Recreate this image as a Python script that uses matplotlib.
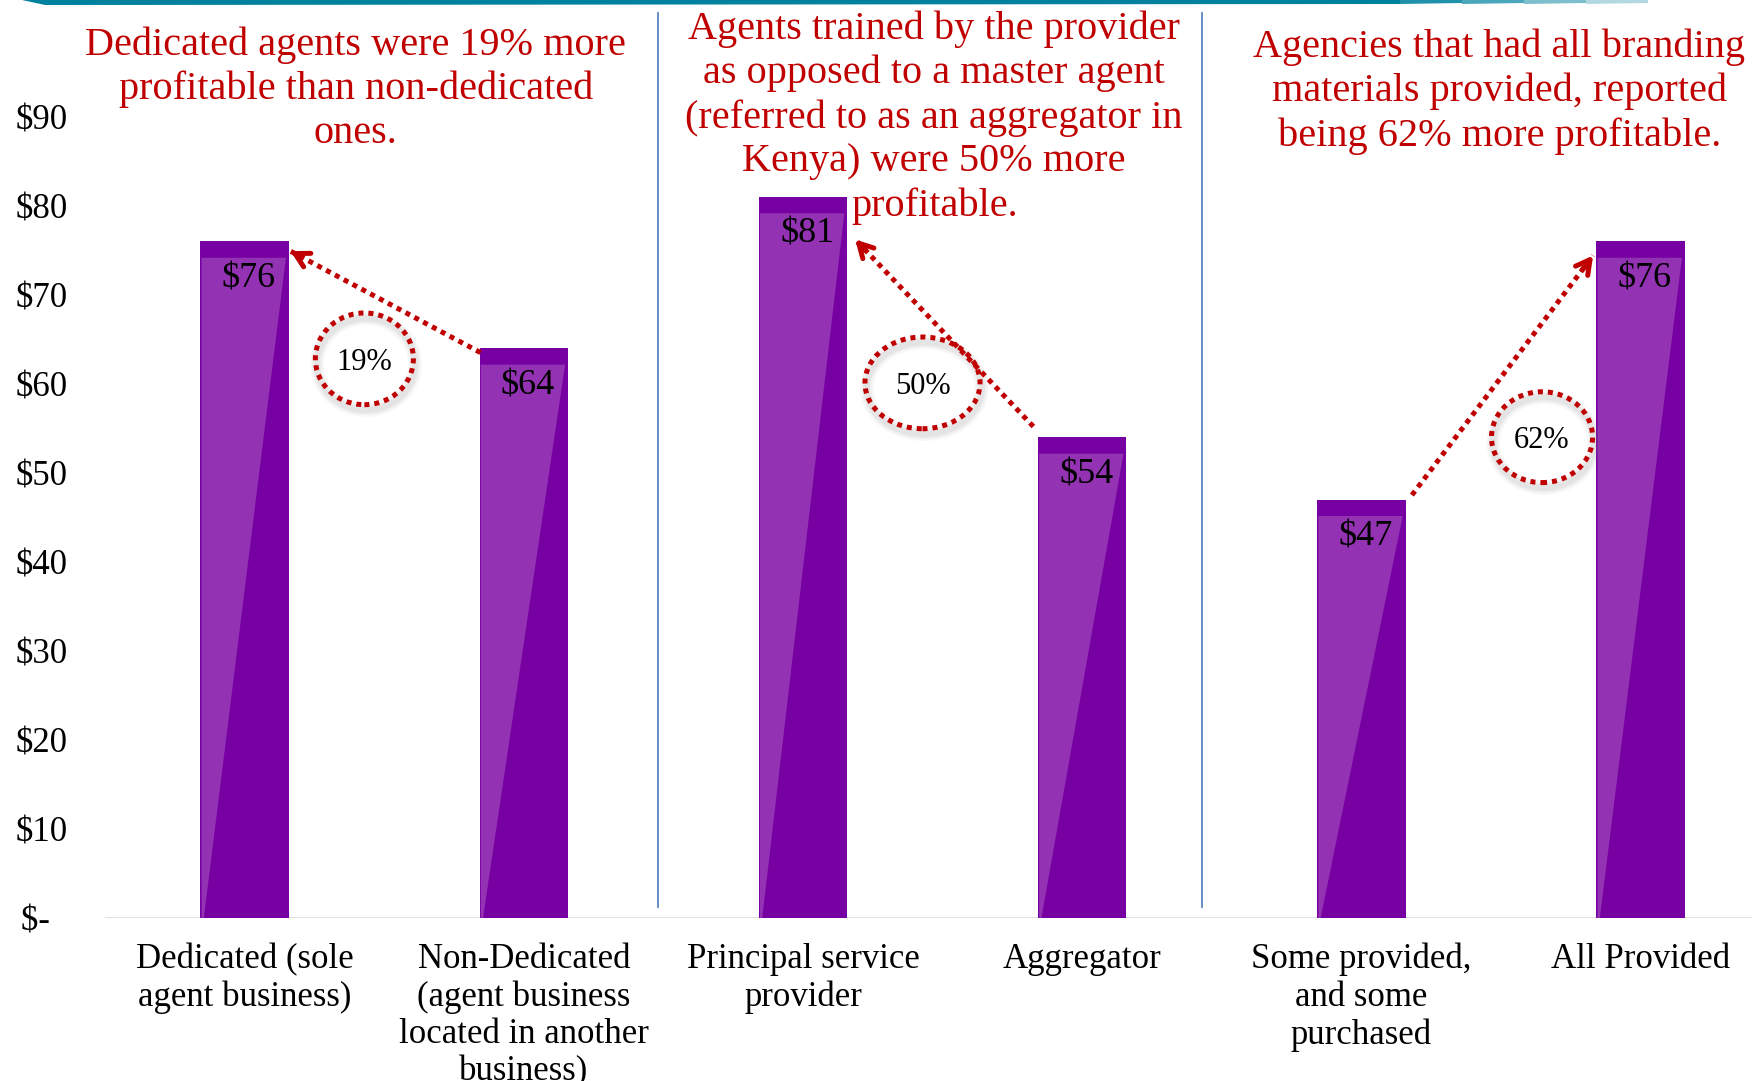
import matplotlib
matplotlib.use("Agg")
import matplotlib.pyplot as plt
from matplotlib.patches import Polygon, Ellipse

# ---------------- data ----------------
categories = [
    "Dedicated (sole\nagent business)",
    "Non-Dedicated\n(agent business\nlocated in another\nbusiness)",
    "Principal service\nprovider",
    "Aggregator",
    "Some provided,\nand some\npurchased",
    "All Provided",
]
values = [76, 64, 81, 54, 47, 76]
ytick_values = [0, 10, 20, 30, 40, 50, 60, 70, 80, 90]
ytick_labels = ["$-  ", "$10", "$20", "$30", "$40", "$50", "$60", "$70", "$80", "$90"]

callout_texts = [
    "Dedicated agents were 19% more\nprofitable than non-dedicated\nones.",
    "Agents trained by the provider\nas opposed to a master agent\n(referred to as an aggregator in\nKenya) were 50% more\nprofitable.",
    "Agencies that had all branding\nmaterials provided, reported\nbeing 62% more profitable.",
]
percent_labels = ["19%", "50%", "62%"]

# ---------------- layout (annotation geometry) ----------------
callout_pos = [(0.398, 93.1), (2.47, 89.9), (4.494, 92.8)]
ellipse_geom = [(0.429, 62.8, 0.351, 10.3), (2.428, 60.1, 0.412, 10.3), (4.647, 54.0, 0.362, 10.2)]
arrow_geom = [((0.845, 63.5), (0.164, 74.9)),
              ((2.825, 55.2), (2.187, 76.2)),
              ((4.181, 47.5), (4.830, 74.4))]
separators = [1.482, 3.430]

DARK = "#7700A3"
LIGHT = "#9333B3"
RED = "#C00000"
FONT = "Liberation Serif"

plt.rcParams["font.family"] = [FONT, "DejaVu Serif"]

W, H = 1752, 1081
fig = plt.figure(figsize=(W / 100, H / 100), dpi=100)
ax = fig.add_axes([105 / W, 163 / H, 1 - 105 / W, 1 - 163 / H])

x = list(range(len(values)))
bw = 0.316
ax.bar(x, values, width=bw, color=DARK, zorder=2)

# light sheen on each bar
for xi, v in zip(x, values):
    left = xi - bw / 2
    right = xi + bw / 2
    top = v - 1.85
    poly = Polygon([(left + 0.004, top), (right - 0.01, top), (left + 0.012, 0), (left + 0.004, 0)],
                   closed=True, facecolor=LIGHT, edgecolor="none", zorder=3)
    ax.add_patch(poly)
    ax.text(xi + 0.015, v - 4.2, f"${v}", ha="center", va="center", fontsize=26,
            color="black", zorder=5)

ax.set_xlim(-0.5, 5.399)
ax.set_ylim(0, 103.1)

for s in ax.spines.values():
    s.set_visible(False)
ax.axhline(0, color="#D9D9D9", lw=1.8, zorder=1)

ax.set_yticks(ytick_values)
ax.set_yticklabels(ytick_labels, fontsize=25)
ax.set_xticks(x)
ax.set_xticklabels(categories, fontsize=25, linespacing=1.17)
ax.tick_params(axis="both", length=0)
ax.tick_params(axis="y", pad=27)
ax.tick_params(axis="x", pad=18)

# separators
for sx in separators:
    ax.plot([sx, sx], [1.25, 101.6], color="#5B87C5", lw=1.3, zorder=1, clip_on=False)

# callout texts
for (cx, cy), t in zip(callout_pos, callout_texts):
    ax.text(cx, cy, t, ha="center", va="center", fontsize=29, color=RED,
            linespacing=1.24, zorder=6)

# arrows
dot = (0, (1, 1.0))
for (tail, tip) in arrow_geom:
    ax.plot([tail[0], tip[0]], [tail[1], tip[1]], color=RED, lw=3.6,
            linestyle=dot, dash_capstyle="butt", zorder=6)
    bx = tip[0] - (tip[0] - tail[0]) * 0.06
    by = tip[1] - (tip[1] - tail[1]) * 0.06
    ax.annotate("", xy=tip, xytext=(bx, by),
                arrowprops=dict(arrowstyle="->,head_length=1.0,head_width=0.55",
                                lw=3.6, color=RED, shrinkA=0, shrinkB=0), zorder=7)

# dotted ellipses with soft shadow
for (ex, ey, ew, eh), pl in zip(ellipse_geom, percent_labels):
    for k, (lw, a) in enumerate([(10, 0.05), (7, 0.07), (4.5, 0.09)]):
        ax.add_patch(Ellipse((ex + 0.006, ey - 0.6), ew, eh, fill=False,
                             edgecolor="gray", lw=lw, alpha=a, zorder=5))
    ax.add_patch(Ellipse((ex, ey), ew, eh, fill=False, edgecolor=RED, lw=3.6,
                         linestyle=dot, capstyle="butt", zorder=6))
    ax.text(ex, ey - 0.4, pl, ha="center", va="center", fontsize=22, color="black", zorder=7)

# top teal band
band = Polygon([(22 / W, 1.0), (1400 / W, 1.0), (1400 / W, 1 - 4 / H), (45 / W, 1 - 5 / H)],
               closed=True, transform=fig.transFigure, facecolor="#00819E", edgecolor="none")
fig.patches.append(band)
fades = ["#1F91AA", "#4AA6BA", "#7DBFCD", "#B2D9E2"]
for i, c in enumerate(fades):
    x0 = 1400 + i * 62
    x1 = x0 + 62
    fig.patches.append(Polygon([(x0 / W, 1.0), (x1 / W, 1.0), (x1 / W, 1 - 3 / H), (x0 / W, 1 - 4 / H)],
                               closed=True, transform=fig.transFigure, facecolor=c, edgecolor="none"))

fig.savefig("out.png", dpi=100)
